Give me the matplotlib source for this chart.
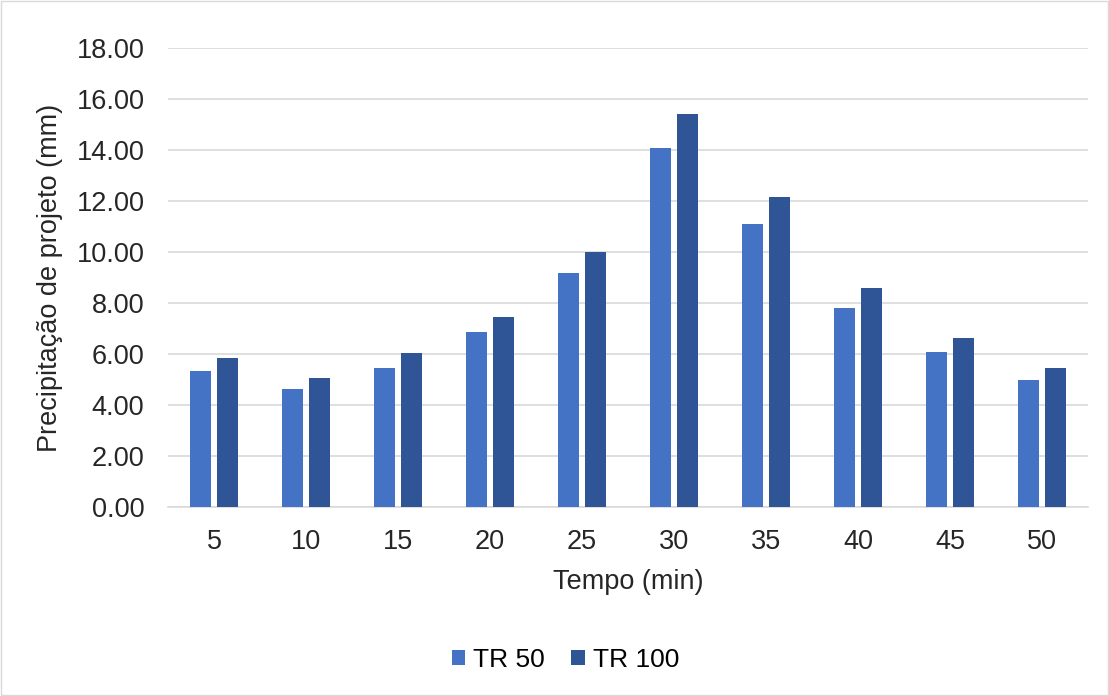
import numpy as np
import matplotlib.pyplot as plt

plt.rcParams['font.family'] = ['Liberation Sans', 'DejaVu Sans']

tempo = ['5', '10', '15', '20', '25', '30', '35', '40', '45', '50']
tr50 = [5.32, 4.62, 5.44, 6.85, 9.19, 14.07, 11.11, 7.79, 6.06, 4.97]
tr100 = [5.83, 5.05, 6.03, 7.47, 10.01, 15.40, 12.16, 8.57, 6.61, 5.44]

fig = plt.figure(figsize=(11.09, 6.96), dpi=100)
ax = fig.add_axes([0.1515, 0.2716, 0.8295, 0.6594])

x = np.arange(len(tempo))
w = 0.23
gap = 0.06
ax.bar(x - (w + gap) / 2, tr50, w, color='#4472C4', label='TR 50', zorder=3)
ax.bar(x + (w + gap) / 2, tr100, w, color='#2F5597', label='TR 100', zorder=3)

ax.set_ylim(0, 18)
ax.set_xlim(-0.5, len(tempo) - 0.5)
ax.set_yticks(np.arange(0, 19, 2))
ax.set_yticklabels([f'{v:.2f}' for v in np.arange(0, 19, 2)])
ax.set_xticks(x)
ax.set_xticklabels(tempo)
ax.tick_params(length=0, labelsize=19.5, colors='#262626')
ax.tick_params(axis='y', pad=17)
ax.tick_params(axis='x', pad=16)
ax.grid(axis='y', color='#D9D9D9', linewidth=1.2, zorder=0)
for s in ['top', 'right', 'left']:
    ax.spines[s].set_visible(False)
ax.spines['bottom'].set_color('#D9D9D9')
ax.spines['bottom'].set_linewidth(1.2)

ax.set_xlabel('Tempo (min)', fontsize=19.5, color='#262626', labelpad=10)
ax.set_ylabel('Precipitação de projeto (mm)', fontsize=19.5, color='#262626', labelpad=10)

fig.legend(loc='center', bbox_to_anchor=(0.51, 0.052), ncol=2, frameon=False,
           fontsize=19, handlelength=0.5, handleheight=0.5, handletextpad=0.3,
           columnspacing=1.0)

fig.patches.append(plt.Rectangle((0.001, 0.001), 0.998, 0.998, transform=fig.transFigure,
                                 fill=False, edgecolor='#D9D9D9', linewidth=1))

fig.savefig('out.png', dpi=100)
